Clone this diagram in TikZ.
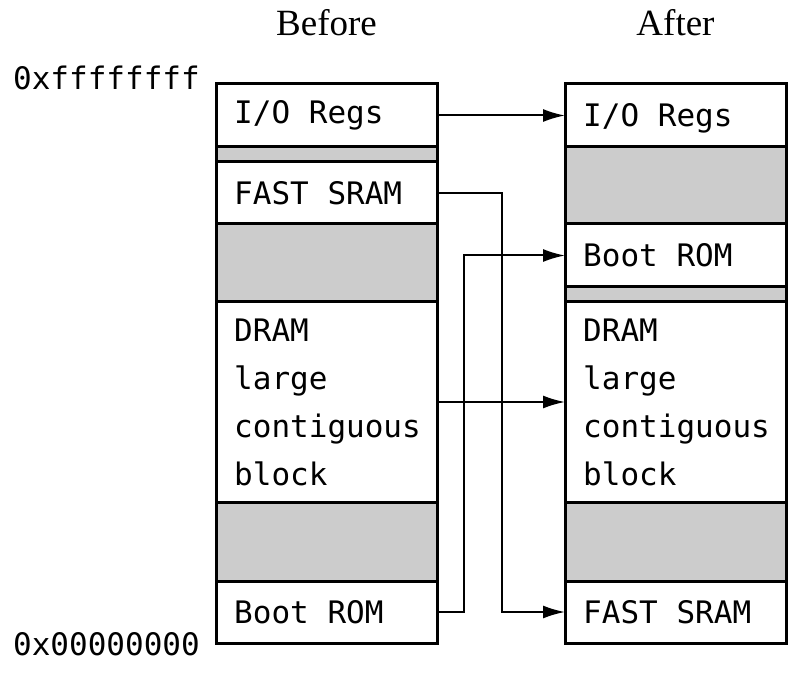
\documentclass[tikz,border=0pt]{standalone}
\usepackage{fontspec}
\setmainfont{Liberation Serif}
\newfontfamily\memfont{DejaVu Sans Mono}
\usetikzlibrary{positioning,arrows.meta}
\definecolor{gapgray}{RGB}{204,204,204}

\begin{document}
\begin{tikzpicture}[x=1pt,y=-1pt,
    seg/.style={draw, line width=3pt, minimum width=221pt, inner sep=0pt, outer sep=0pt, anchor=north west},
    gap/.style={seg, fill=gapgray},
    txt/.style={font=\memfont\fontsize{31}{48}\selectfont, inner sep=0pt, align=left},
    head/.style={font=\fontsize{37}{40}\selectfont, inner sep=0pt},
    link/.style={line width=2pt, -{Latex[length=22pt,width=13pt]}}]
  \useasboundingbox (0,0) rectangle (796,679);

  %BEFORE
  \node[seg, minimum height=63pt] (lio) at (216,84) {};
  \node[gap, minimum height=15pt] (lgapa) at (216,147) {};
  \node[seg, minimum height=62pt] (lsram) at (216,162) {};
  \node[gap, minimum height=78pt] (lgapb) at (216,224) {};
  \node[seg, minimum height=200pt] (ldram) at (216,302) {};
  \node[gap, minimum height=79pt] (lgapc) at (216,502) {};
  \node[seg, minimum height=62pt] (lboot) at (216,581) {};

  \node[txt, right=18pt of lio.west] (tlio) {I/O Regs};
  \node[txt, right=18pt of lsram.west] (tlsram) {FAST SRAM};
  \node[txt, right=18pt of ldram.west] (tldram) {DRAM\\large\\contiguous\\block};
  \node[txt, right=18pt of lboot.west] (tlboot) {Boot ROM};

  %AFTER
  \node[seg, minimum height=63pt] (rio) at (565,84) {};
  \node[gap, minimum height=77pt] (rgapa) at (565,147) {};
  \node[seg, minimum height=63pt] (rboot) at (565,224) {};
  \node[gap, minimum height=15pt] (rgapb) at (565,287) {};
  \node[seg, minimum height=200pt] (rdram) at (565,302) {};
  \node[gap, minimum height=79pt] (rgapc) at (565,502) {};
  \node[seg, minimum height=62pt] (rsram) at (565,581) {};

  \node[txt, right=18pt of rio.west, yshift=-3pt] (trio) {I/O Regs};
  \node[txt, right=18pt of rboot.west] (trboot) {Boot ROM};
  \node[txt, right=18pt of rdram.west] (trdram) {DRAM\\large\\contiguous\\block};
  \node[txt, right=18pt of rsram.west] (trsram) {FAST SRAM};

  %JUDUL
  \node[head, above=48pt of lio] (before) {Before};
  \node[head, above=48pt of rio] (after) {After};
  \node[txt, left=16pt of lio.north west, yshift=6pt] (top) {0xffffffff};
  \node[txt, left=16pt of lboot.south west, yshift=-1pt] (bottom) {0x00000000};

  %PANAH
  \coordinate (sramx) at (502,0);
  \coordinate (bootx) at (464,0);
  \draw[link] (lio.east) -- (rio.west);
  \draw[link] (ldram.east) -- (rdram.west);
  \draw[link] (lsram.east) -- (lsram.east -| sramx) |- (rsram.west);
  \draw[link] (lboot.east) -- (lboot.east -| bootx) |- (rboot.west);
\end{tikzpicture}
\end{document}
